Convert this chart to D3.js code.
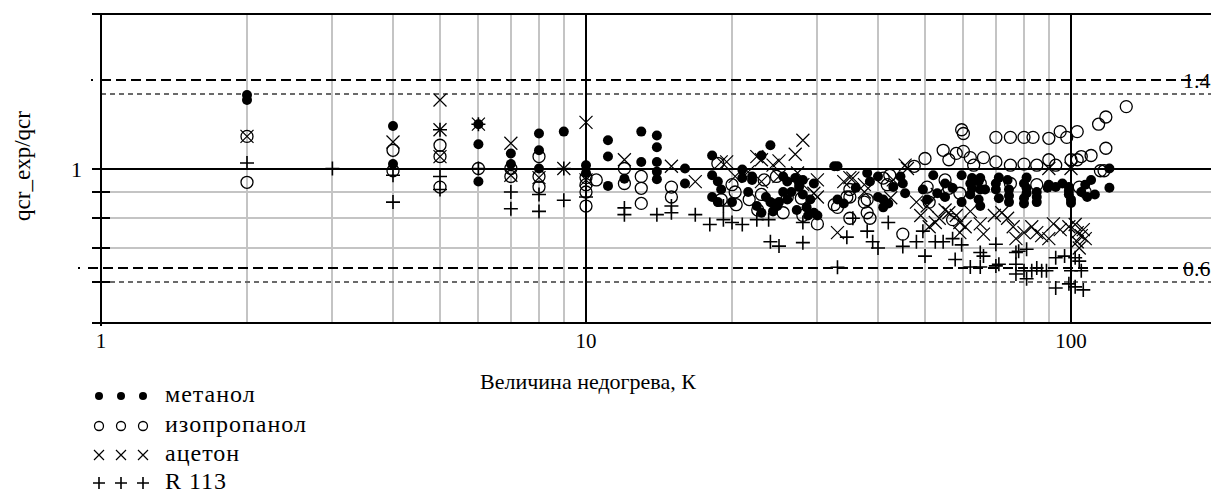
<!DOCTYPE html>
<html><head><meta charset="utf-8">
<script src="https://cdn.jsdelivr.net/npm/d3@7"></script>
<style>body{margin:0;background:#fff}svg{display:block}text{font-family:"Liberation Serif","Times New Roman",serif;fill:#000}</style>
</head><body><svg id="c" width="1211" height="495"></svg>
<script>
// ---- data: [undercooling K, qcr_exp/qcr] ----
const metanol = [[2,1.39],[2,1.36],[4,1.21],[4,1.02],[6,1.22],[6,1.115],[6,0.943],[7,1.07],[7,1.02],[8,1.17],[8,1.085],[8,1.0],[9,1.18],[10,1.015],[10,0.98],[11.1,1.135],[11.1,1.055],[11.1,0.925],[12,0.955],[13,1.18],[13,1.03],[14,1.16],[14,1.1],[14,1.03],[14,0.986],[14,0.953],[16,1.0],[16,0.935],[18.2,1.06],[18.2,0.97],[18.2,0.88],[18.7,0.86],[18.7,0.943],[19,0.91],[20,0.86],[21,0.995],[21,0.958],[21.6,0.9],[22,0.965],[22,0.95],[22.5,0.845],[23,1.06],[23,0.82],[24,1.11],[24,0.86],[24.3,0.855],[24.3,0.825],[24.8,0.845],[25,0.86],[25.5,0.965],[26,0.87],[26,0.943],[27,0.958],[27.2,0.83],[27.5,0.935],[27.5,0.92],[28,0.95],[28.5,0.84],[28.7,0.81],[29,0.87],[29.5,0.82],[29.5,0.935],[30,0.81],[26.5,0.9],[28,0.89],[23.5,0.88],[25.5,0.9],[32.5,1.01],[33,1.01],[33,0.87],[34,0.855],[36,0.917],[38,0.98],[38.5,0.943],[40,0.965],[40,0.88],[41,0.84],[41,0.87],[42,0.855],[44.5,0.965],[45,0.935],[45.5,0.895],[43,0.92],[49.5,0.91],[50.5,0.87],[52,0.97],[53,0.895],[55,0.935],[55,0.88],[57,0.916],[59.5,0.97],[59.5,0.86],[62,0.935],[62.5,0.958],[62.5,0.915],[62,0.89],[64.5,0.943],[64.5,0.87],[65,0.958],[65,0.91],[65,0.845],[66.5,0.91],[70,0.935],[70,0.91],[71,0.875],[71,0.96],[74.5,0.91],[74.5,0.86],[74,0.95],[74.5,0.885],[80,0.935],[81,0.895],[80,0.855],[81,0.96],[81,0.915],[80,0.875],[85,0.86],[85,0.9],[85,0.88],[89.5,0.917],[90,0.93],[93,0.92],[96,0.935],[99,0.92],[99,0.89],[99,0.905],[100,0.87],[100,0.857],[107,0.93],[110,0.95],[112,0.89],[120,1.0],[120,0.917],[105,0.9],[108,0.88]];
const isopropanol = [[2,1.155],[2,0.94],[4,1.085],[4,0.99],[5,1.11],[5,1.055],[5,0.92],[6,1.0],[7,1.0],[7,0.965],[8,1.055],[8,0.965],[8,0.92],[10,0.96],[10,0.93],[10,0.9],[10,0.845],[10.5,0.95],[12,1.0],[12,0.935],[13,0.965],[13,0.915],[13,0.855],[15,0.92],[15,0.88],[18.7,1.023],[19,0.87],[20,0.93],[20.4,0.85],[20.3,0.9],[21.7,0.87],[22.6,0.83],[23,0.89],[23.3,0.95],[24.7,0.965],[25.5,0.82],[26,0.88],[27.8,0.875],[28,0.81],[30,0.78],[32.5,0.85],[33,0.84],[34.5,0.88],[35,0.91],[35,0.88],[35,0.8],[37.5,0.86],[38,0.87],[38,0.82],[38.5,0.8],[41,0.958],[41.8,0.93],[42.3,0.97],[45,0.745],[47.5,1.01],[50,1.046],[50.5,0.92],[51,0.86],[54.5,1.085],[55,0.95],[56,1.04],[56,0.915],[57,0.795],[58,1.07],[59,0.895],[59.5,1.19],[60,1.17],[60,1.08],[62,1.05],[63,1.015],[65,0.935],[66,1.05],[70,1.15],[70,1.03],[75,1.15],[75,1.015],[80,1.15],[80,1.02],[83.5,1.15],[85,1.015],[90,1.145],[90,1.04],[95,1.18],[93,1.015],[98,1.15],[100,1.04],[103,1.18],[103,1.04],[105,1.055],[110,1.06],[114,1.22],[118,1.26],[118,1.095],[130,1.32],[115,0.99],[117,0.99],[75,0.935],[85,0.93],[107,0.9],[104,0.92]];
const aceton = [[2,1.155],[4,1.126],[5,1.36],[5,1.19],[5,1.055],[6,1.22],[7,1.12],[7,0.97],[8,0.96],[9,1.0],[10,1.23],[10,0.95],[12,1.04],[15,1.01],[16.8,0.943],[19,1.03],[19.5,1.03],[20.3,0.965],[21.6,0.985],[22.5,1.055],[23,1.04],[23,0.943],[24.3,1.015],[25,1.035],[25,0.965],[27,1.066],[27.3,0.98],[28,1.135],[28,0.93],[29.5,0.895],[30,0.88],[30,0.95],[33,0.75],[34,0.943],[35,0.96],[35.5,0.958],[37.5,0.93],[37.5,0.9],[42.5,0.877],[43,0.95],[45.5,1.015],[46,1.0],[48,0.86],[49,0.81],[50.5,0.845],[51,0.77],[52.5,0.785],[53,0.89],[53.5,0.8],[55,0.83],[56,0.82],[58,0.81],[59,0.785],[59,0.75],[60.5,0.77],[62,0.825],[65,0.78],[66,0.745],[69.5,0.81],[72,0.82],[74,0.8],[76,0.77],[77,0.73],[80,0.75],[83,0.77],[85,0.75],[87,0.74],[90,0.73],[92,0.78],[95,0.76],[99,0.77],[102,0.778],[103,0.75],[103,0.72],[104,0.7],[106,0.76],[107,0.73],[105,0.74],[90,1.0],[100,1.0]];
const r113 = [[2,1.025],[3,1.0],[4,0.97],[4,0.86],[5,1.19],[5,0.965],[5,0.91],[6,1.22],[6,1.0],[7,0.9],[7,0.835],[8,0.89],[8,0.825],[9,1.0],[9,0.867],[10,0.88],[12,0.838],[12,0.813],[14,0.813],[15,0.845],[15,0.82],[16.8,0.813],[18,0.778],[19.2,0.795],[19.2,0.845],[20,0.785],[21,0.778],[22.5,0.795],[23.8,0.795],[24,0.72],[25,0.706],[28,0.717],[28,0.785],[33,0.642],[34.5,0.735],[35.5,0.8],[38,0.755],[39,0.72],[40,0.7],[42,0.785],[45,0.705],[48,0.72],[49.5,0.755],[50,0.675],[52.5,0.72],[54.5,0.72],[57,0.73],[57.7,0.665],[59.5,0.71],[62,0.643],[65,0.686],[65,0.643],[66,0.675],[70,0.712],[70,0.646],[71,0.651],[77,0.686],[77,0.651],[78,0.69],[81,0.696],[77,0.623],[80,0.632],[81,0.61],[83,0.632],[85,0.64],[87,0.632],[89,0.632],[93,0.67],[93,0.585],[97,0.675],[99,0.596],[100,0.632],[102,0.67],[104,0.66],[105,0.632],[102,0.588],[106,0.58]];

const seriesNames = ["метанол","изопропанол","ацетон","R 113"];
const xTickValues = [1,10,100];
const xTickLabels = ["1","10","100"];
const yTickValues = [1];
const yTickLabels = ["1"];
const yMinorTicks = [0.9,0.8,0.7,0.6];
const xGridGray = [2,3,4,5,6,7,8,9,20,30,40,50,60,70,80,90,200];
const xGridBlack = [10,100];
const yGridGray = [0.9,0.8,0.7];
const limitLines = [1.49,0.64];       // bold dashed markers
const limitLabels = ["1.4","0.6"];
const refLines = [1.4,0.6];           // thin dashed lines
const xTitle = "Величина недогрева, К";
const yTitle = "qcr_exp/qcr";

// ---- drawing ----
const svg = d3.select("#c");
const L = 101, T = 14, B = 323, W = 1211;
const x = d3.scaleLog().domain([1,200]).range([L, L + 485*Math.log10(200)]);
const y = d3.scaleLog().domain([0.5,2]).range([B, T]);
const right = W;

const grid = svg.append("g").attr("shape-rendering","crispEdges");
grid.selectAll(".vg").data(xGridGray).join("line")
  .attr("x1",d=>Math.round(x(d))).attr("x2",d=>Math.round(x(d))).attr("y1",T).attr("y2",B)
  .attr("stroke","#c4c4c4").attr("stroke-width",2);
grid.selectAll(".hg").data(yGridGray).join("line")
  .attr("y1",d=>Math.round(y(d))).attr("y2",d=>Math.round(y(d))).attr("x1",L).attr("x2",right)
  .attr("stroke","#c4c4c4").attr("stroke-width",2);
grid.selectAll(".rl").data(refLines).join("line")
  .attr("y1",d=>Math.round(y(d))).attr("y2",d=>Math.round(y(d))).attr("x1",L).attr("x2",right)
  .attr("stroke","#6a6a6a").attr("stroke-width",1.5).attr("stroke-dasharray","5,4");
grid.selectAll(".vb").data(xGridBlack).join("line")
  .attr("x1",d=>Math.round(x(d))).attr("x2",d=>Math.round(x(d))).attr("y1",T).attr("y2",B)
  .attr("stroke","#000").attr("stroke-width",1.5);
grid.selectAll(".hb").data(yTickValues).join("line")
  .attr("y1",d=>Math.round(y(d))).attr("y2",d=>Math.round(y(d))).attr("x1",92).attr("x2",right)
  .attr("stroke","#000").attr("stroke-width",1.5);
grid.selectAll(".ll").data(limitLines).join("line")
  .attr("y1",d=>Math.round(y(d))).attr("y2",d=>Math.round(y(d))).attr("x1",(d,i)=>i===0?L:88).attr("x2",right)
  .attr("stroke","#000").attr("stroke-width",2).attr("stroke-dasharray","10,5");
grid.selectAll(".lld").data(limitLines).join("rect")
  .attr("x",(d,i)=>i===0?91:78).attr("y",d=>Math.round(y(d))-1).attr("width",2).attr("height",2).attr("fill","#000");

const fr = svg.append("g").attr("stroke","#000").attr("stroke-width",1.5).attr("shape-rendering","crispEdges");
fr.append("line").attr("x1",92).attr("x2",right).attr("y1",T).attr("y2",T);
fr.append("line").attr("x1",92).attr("x2",right).attr("y1",B).attr("y2",B);
fr.append("line").attr("x1",L).attr("x2",L).attr("y1",T).attr("y2",B+3);
fr.selectAll(".mt").data(yMinorTicks).join("line")
  .attr("x1",92).attr("x2",110).attr("y1",d=>Math.round(y(d))).attr("y2",d=>Math.round(y(d)));

svg.selectAll(".xl").data(xTickValues).join("text")
  .attr("x",d=>x(d)).attr("y",348).attr("text-anchor","middle").attr("font-size",21)
  .text((d,i)=>xTickLabels[i]);
svg.selectAll(".yl").data(yTickValues).join("text")
  .attr("x",82).attr("y",d=>y(d)+8).attr("text-anchor","end").attr("font-size",22)
  .text((d,i)=>yTickLabels[i]);
svg.selectAll(".lim").data(limitLines).join("text")
  .attr("x",1183).attr("y",d=>y(d)+8).attr("font-size",22).text((d,i)=>limitLabels[i]);
svg.append("text").attr("x",588).attr("y",389).attr("text-anchor","middle").attr("font-size",22).text(xTitle);
svg.append("text").attr("transform","translate(30,166) rotate(-90)").attr("text-anchor","middle").attr("font-size",23).text(yTitle);

function drawSeries(g, data, kind, sz) {
  data.forEach(d => drawMarker(g, x(d[0]), y(d[1]), kind, sz));
}
function drawMarker(g, cx, cy, kind, s) {
  if (kind === 0) {
    g.append("circle").attr("cx",cx).attr("cy",cy).attr("r",s).attr("fill","#000");
  } else if (kind === 1) {
    g.append("circle").attr("cx",cx).attr("cy",cy).attr("r",s).attr("fill","none").attr("stroke","#000").attr("stroke-width",1.3);
  } else if (kind === 2) {
    g.append("path").attr("d",`M${cx-s},${cy-s}L${cx+s},${cy+s}M${cx-s},${cy+s}L${cx+s},${cy-s}`)
      .attr("stroke","#000").attr("stroke-width",1.2).attr("fill","none");
  } else {
    g.append("path").attr("d",`M${cx-s},${cy}L${cx+s},${cy}M${cx},${cy-s}L${cx},${cy+s}`)
      .attr("stroke","#000").attr("stroke-width",1.6).attr("fill","none");
  }
}
const pts = svg.append("g");
drawSeries(pts, metanol, 0, 5);
drawSeries(pts, isopropanol, 1, 6);
drawSeries(pts, aceton, 2, 6.5);
drawSeries(pts, r113, 3, 7);

const lg = svg.append("g");
const legY = [396,426,455,483];
const legSz = [4,4.5,5,6];
seriesNames.forEach((n,i) => {
  [99,121,143].forEach(mx => drawMarker(lg, mx, legY[i], i, legSz[i]));
  lg.append("text").attr("x",165).attr("y",legY[i]+6).attr("font-size",24)
    .attr("letter-spacing",1).text(n);
});
</script></body></html>
